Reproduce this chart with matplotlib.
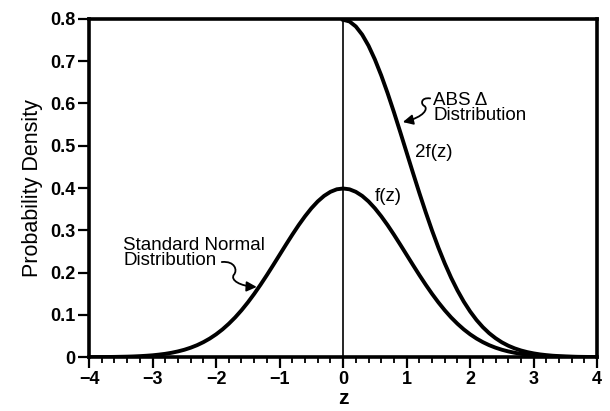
import numpy as np
import matplotlib.pyplot as plt
from matplotlib.path import Path
from matplotlib.patches import FancyArrowPatch

plt.rcParams['font.family'] = ['Liberation Sans', 'DejaVu Sans']

# density values, z step 0.1 (right half; f is symmetric)
z_half = [round(0.1 * i, 1) for i in range(41)]
f_half = [0.3989, 0.3970, 0.3910, 0.3814, 0.3683, 0.3521, 0.3332, 0.3123, 0.2897, 0.2661,
          0.2420, 0.2179, 0.1942, 0.1714, 0.1497, 0.1295, 0.1109, 0.0940, 0.0790, 0.0656,
          0.0540, 0.0440, 0.0355, 0.0283, 0.0224, 0.0175, 0.0136, 0.0104, 0.0079, 0.0060,
          0.0044, 0.0033, 0.0024, 0.0017, 0.0012, 0.0009, 0.0006, 0.0004, 0.0003, 0.0002,
          0.0001]
abs_delta = [0.7979, 0.7940, 0.7821, 0.7628, 0.7366, 0.7041, 0.6664, 0.6245, 0.5794, 0.5321,
             0.4839, 0.4357, 0.3884, 0.3429, 0.2995, 0.2590, 0.2218, 0.1880, 0.1579, 0.1312,
             0.1080, 0.0879, 0.0709, 0.0566, 0.0448, 0.0350, 0.0271, 0.0208, 0.0158, 0.0119,
             0.0089, 0.0065, 0.0048, 0.0034, 0.0025, 0.0017, 0.0012, 0.0008, 0.0006, 0.0004,
             0.0003]

z_full = [-v for v in z_half[:0:-1]] + z_half
f_full = f_half[:0:-1] + f_half

fig = plt.figure(figsize=(6.1, 4.11), dpi=100)
ax = fig.add_axes([0.146, 0.131, 0.833, 0.823])

ax.plot(z_full, f_full, color='black', lw=2.8, solid_joinstyle='round')
ax.plot(z_half, abs_delta, color='black', lw=2.8, solid_joinstyle='round')
ax.plot([0, 0], [0, 0.8], color='black', lw=1.2)

ax.set_xlim(-4, 4)
ax.set_ylim(0, 0.8)
ax.set_xticks(np.arange(-4, 5, 1))
ax.set_xticklabels(['\u22124', '\u22123', '\u22122', '\u22121', '0', '1', '2', '3', '4'])
ax.set_xticks(np.arange(-4, 4.01, 0.2), minor=True)
ax.set_yticks(np.arange(0, 0.81, 0.1))
ax.set_yticklabels(['0', '0.1', '0.2', '0.3', '0.4', '0.5', '0.6', '0.7', '0.8'])

for s in ax.spines.values():
    s.set_linewidth(2.6)
ax.tick_params(which='major', direction='out', length=8, width=1.6,
               labelsize=13, pad=2)
ax.tick_params(which='minor', direction='out', length=4, width=1.3)
for lab in ax.get_xticklabels() + ax.get_yticklabels():
    lab.set_fontweight('bold')

ax.set_ylabel('Probability Density', fontsize=15.5, labelpad=5)
ax.set_xlabel('z', fontsize=15, fontweight='bold', labelpad=1)

# annotations
ax.text(-3.46, 0.246, 'Standard Normal\nDistribution', fontsize=13.5,
        va='center', ha='left', linespacing=0.9)
ax.text(1.42, 0.589, 'ABS \u0394\nDistribution', fontsize=13.5,
        va='center', ha='left', linespacing=0.9)
ax.text(1.13, 0.483, '2f(z)', fontsize=13.5, va='center', ha='left')
ax.text(0.50, 0.379, 'f(z)', fontsize=13.5, va='center', ha='left')

def squiggle(verts):
    codes = [Path.MOVETO] + [Path.CURVE4] * (len(verts) - 1)
    p = FancyArrowPatch(path=Path(verts, codes), arrowstyle='-|>,head_length=4,head_width=2',
                        mutation_scale=1.5, lw=1.3, color='black')
    ax.add_patch(p)

squiggle([(-1.91, 0.225), (-1.70, 0.228), (-1.66, 0.205), (-1.72, 0.195),
          (-1.78, 0.182), (-1.62, 0.168), (-1.36, 0.166)])
squiggle([(1.37, 0.612), (1.22, 0.615), (1.22, 0.598), (1.28, 0.594),
          (1.34, 0.588), (1.28, 0.568), (0.94, 0.556)])

fig.savefig('out.png', dpi=100)
